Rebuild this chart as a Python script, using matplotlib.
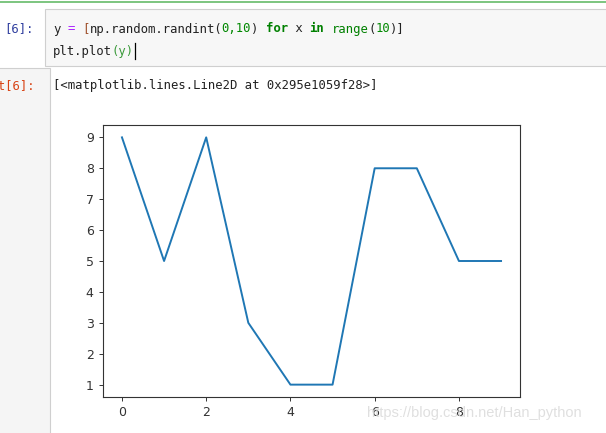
import matplotlib.pyplot as plt
from matplotlib.patches import Rectangle
from matplotlib.lines import Line2D

# values shown by the notebook output
y = [9, 5, 9, 3, 1, 1, 8, 8, 5, 5]
code_line1 = [("y", "#222222"), (" ", "#222222"), ("=", "#aa22ff"), (" ", "#222222"),
              ("[", "#a0522d"), ("np.random.randint(", "#222222"), ("0,10", "#008800"), (") ", "#222222"),
              ("for", "#008000"), (" x ", "#222222"), ("in", "#008000"), (" ", "#222222"),
              ("range", "#008000"), ("(", "#222222"), ("10", "#008800"), (")]", "#222222")]
code_line2 = [("plt.plot", "#222222"), ("(y)", "#3a9a3a")]
out_text = "[<matplotlib.lines.Line2D at 0x295e1059f28>]"
watermark = "https://blog.csdn.net/Han_python"

W, H = 606, 433
fig = plt.figure(figsize=(W / 100, H / 100), dpi=100)
fig.patch.set_facecolor("white")


def fx(px):
    return px / W


def fy(py):
    return 1 - py / H


def rect(x0, y0, x1, y1, fc, ec="none", lw=0):
    r = Rectangle((fx(x0), fy(y1)), fx(x1) - fx(x0), fy(y0) - fy(y1),
                  transform=fig.transFigure, facecolor=fc, edgecolor=ec, linewidth=lw, zorder=0)
    fig.add_artist(r)


def hline(x0, x1, yy, color, lw=0.8):
    fig.add_artist(Line2D([fx(x0), fx(x1)], [fy(yy), fy(yy)], transform=fig.transFigure,
                          color=color, linewidth=lw))


def vline(xx, y0, y1, color, lw=0.8):
    fig.add_artist(Line2D([fx(xx), fx(xx)], [fy(y0), fy(y1)], transform=fig.transFigure,
                          color=color, linewidth=lw))


# notebook chrome
hline(0, W, 2, "#66bb6a", lw=1.2)
rect(45, 9, W + 5, 66, "#f7f7f7", ec="#cfcfcf", lw=0.8)
rect(-5, 68, 50, H + 5, "#f5f5f5", ec="#cfcfcf", lw=0.8)

mono = "DejaVu Sans Mono"
fs = 8.8
cw = 7.33  # px per character

fig.text(fx(34), fy(29), "[6]:", ha="right", va="center", family=mono, fontsize=fs, color="#303f9f")
fig.text(fx(35), fy(86), "Out[6]:", ha="right", va="center", family=mono, fontsize=fs, color="#d84315")

xpos = 53
for seg, col in code_line1:
    bold = seg in ("for", "in")
    fig.text(fx(xpos), fy(29), seg, ha="left", va="center", family=mono, fontsize=fs,
             color=col, fontweight="bold" if bold else "normal")
    xpos += cw * len(seg)
xpos = 53
for seg, col in code_line2:
    fig.text(fx(xpos), fy(51), seg, ha="left", va="center", family=mono, fontsize=fs, color=col)
    xpos += cw * len(seg)
vline(xpos + 1, 43, 59, "#000000", lw=0.9)

fig.text(fx(53), fy(86), out_text, ha="left", va="center", family=mono, fontsize=fs, color="#222222")

# the plot itself
ax = fig.add_axes([fx(103), fy(397), fx(520) - fx(103), fy(125) - fy(397)])
ax.plot(y, color="#1f77b4", linewidth=1.4)
ax.set_xticks([0, 2, 4, 6, 8])
ax.set_yticks(range(1, 10))
ax.tick_params(labelsize=9, length=3.2, width=0.7, colors="#333333")
for s in ax.spines.values():
    s.set_linewidth(0.8)
    s.set_color("#333333")

fig.text(fx(367), fy(413), watermark, ha="left", va="center", family="Liberation Sans",
         fontsize=10.5, color="#dcdcdc", alpha=0.9, zorder=10)

fig.savefig("out.png", dpi=100)
